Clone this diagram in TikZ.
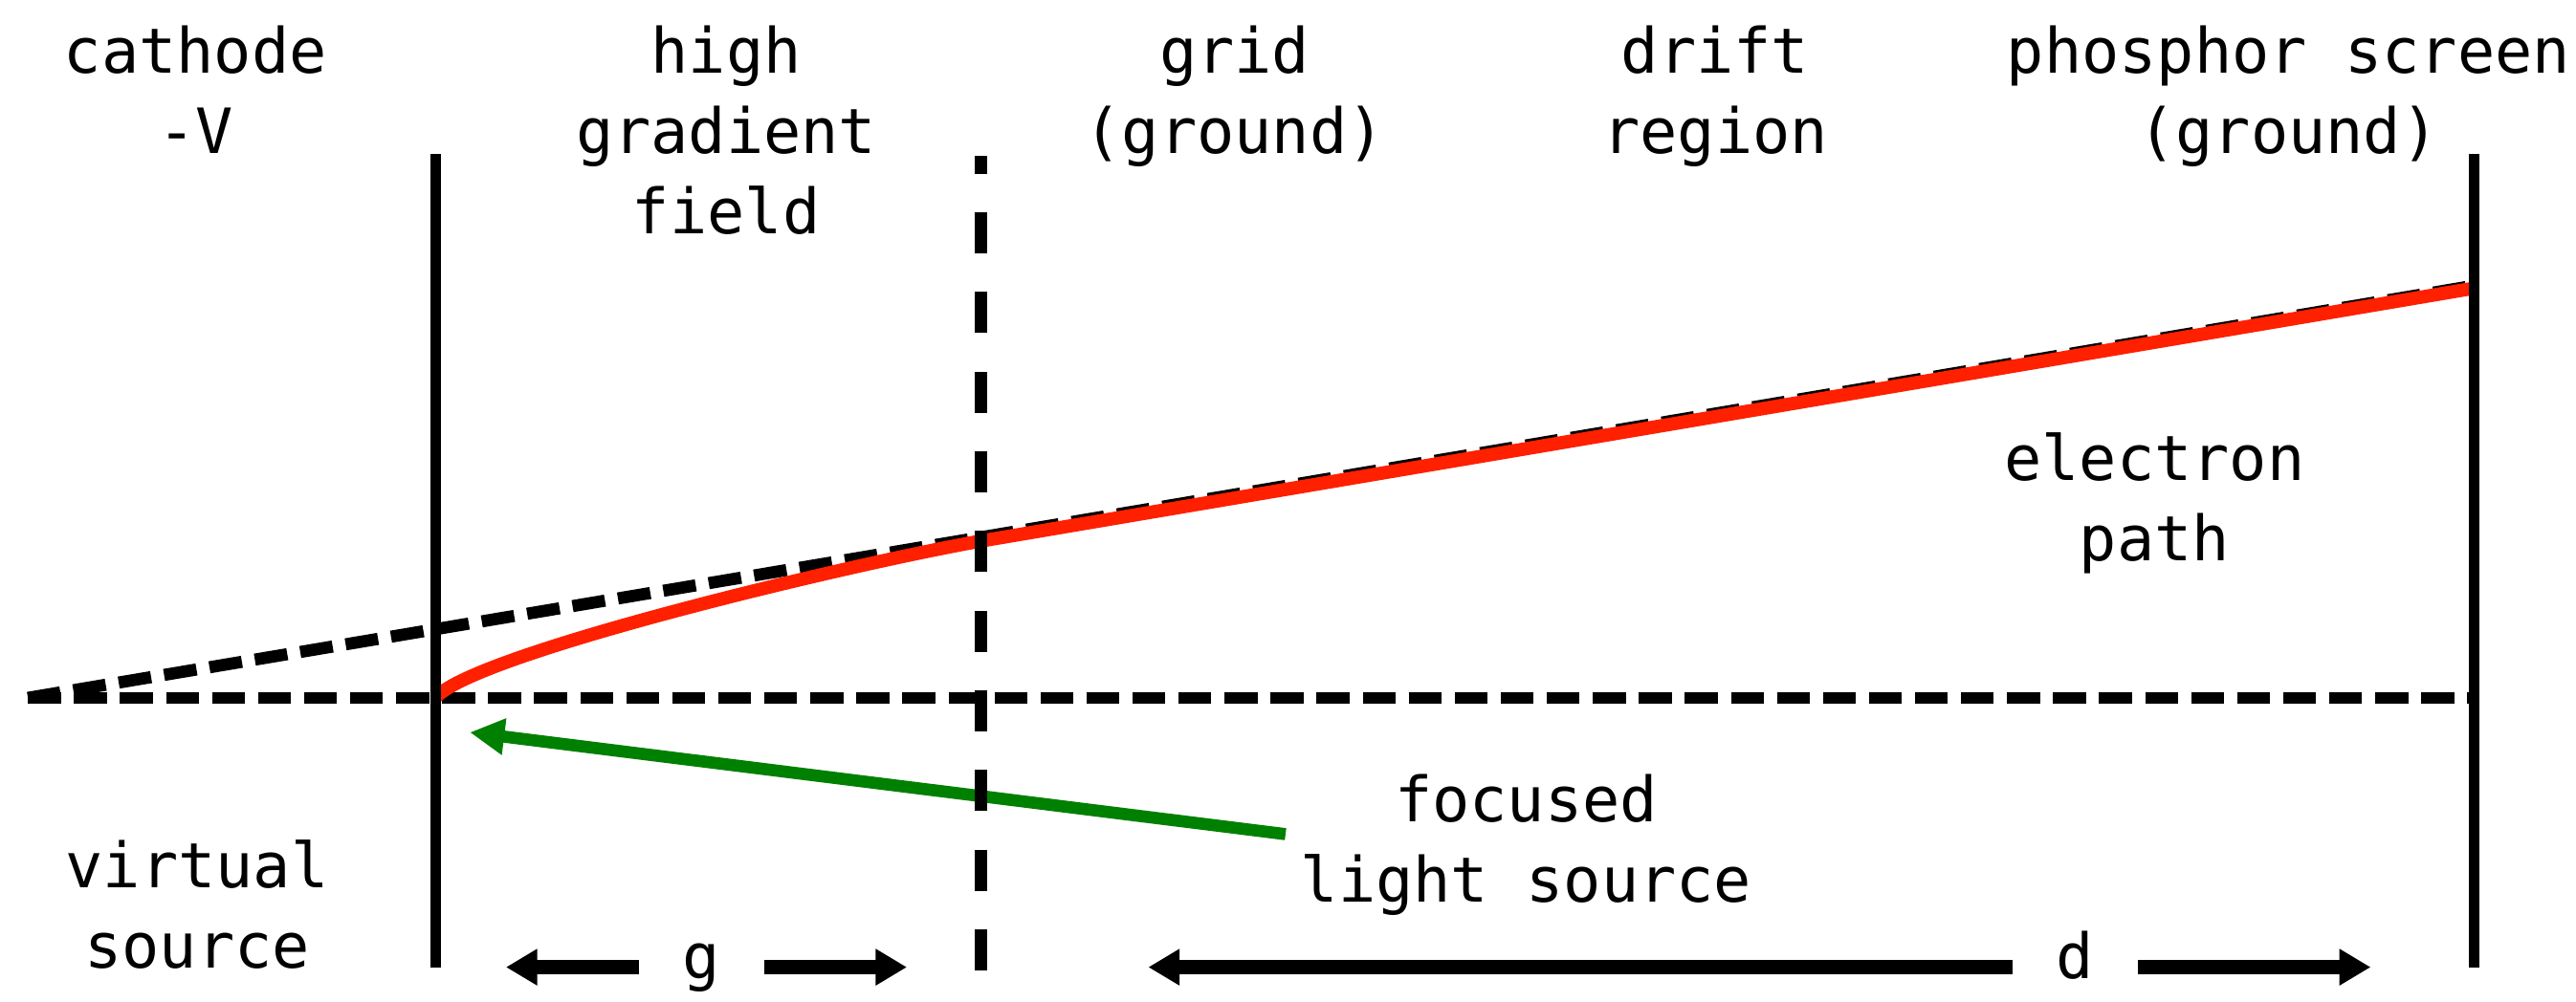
\documentclass[tikz,border=0pt]{standalone}
\usepackage{fontspec}
\setmainfont{DejaVu Sans Mono}
\usetikzlibrary{arrows.meta}
\definecolor{pathred}{RGB}{255,32,0}
\definecolor{lightgreen}{RGB}{0,128,0}
\tikzset{
  lbl/.style={align=center, anchor=north, inner sep=0pt, font=\fontsize{10.8}{13.94}\selectfont},
  dimlbl/.style={anchor=base, inner xsep=0.26cm, inner ysep=0pt, font=\fontsize{10.8}{13.94}\selectfont},
  plate/.style={line width=1.8pt},
  gridline/.style={line width=2.1pt, dash pattern=on 0.25cm off 0.235cm},
  axisline/.style={line width=2.1pt, dash pattern=on 0.20cm off 0.08cm},
  epath/.style={line width=2.3pt, pathred},
  beam/.style={line width=2.1pt, lightgreen, -{Triangle[length=0.21cm,width=0.21cm]}},
  dimarrow/.style={line width=2.4pt, -{Triangle[length=0.19cm,width=0.21cm]}}
}
\begin{document}
\begin{tikzpicture}[x=0.01cm,y=-0.01cm]
\useasboundingbox (0,0) rectangle (1568,610);

% labels
\node[lbl] (cathode) at (119,15) {cathode\\-V};
\node[lbl] (high) at (442,15) {high\\gradient\\field};
\node[lbl] (gridlbl) at (751.5,15) {grid\\(ground)};
\node[lbl] (drift) at (1044,15) {drift\\region};
\node[lbl] (screen) at (1393,15) {phosphor screen\\(ground)};
\node[lbl] (electron) at (1311.5,263) {electron\\path};
\node[lbl] (virtual) at (120,511) {virtual\\source};
\node[lbl] (focused) at (929,471) {focused\\light source};
\node[dimlbl] (g) at (427,596) {g};
\node[dimlbl] (d) at (1263,596) {d};

% key coordinates
\coordinate (vs) at (17,425);
\coordinate (catTop) at (265,94);
\coordinate (catBot) at (265,589);
\coordinate (catAxis) at (265,425);
\coordinate (gridTop) at (597,95);
\coordinate (gridBot) at (597,591);
\coordinate (gridPt) at (597,329.5);
\coordinate (scrTop) at (1506,94);
\coordinate (scrBot) at (1506,589);
\coordinate (scrAxis) at (1506,425);
\coordinate (scrHit) at (1506,175.5);
\coordinate (scrDash) at (1506,174);
\coordinate (lightStart) at (782.5,508);
\coordinate (lightTip) at (286,446);
\coordinate (gL) at (308,589);
\coordinate (gR) at (552,589);
\coordinate (dL) at (699,589);
\coordinate (dR) at (1443,589);

% axis and virtual-source line
\draw[axisline] (vs) -- (scrAxis);
\draw[axisline] (vs) -- (scrDash);

% electron path
\draw[epath] (catAxis) .. controls (288,398) and (520,343) .. (gridPt) -- (scrHit);

% plates
\draw[plate] (catTop) -- (catBot);
\draw[plate] (scrTop) -- (scrBot);

% light beam
\draw[beam] (lightStart) -- (lightTip);

% grid
\draw[gridline] (gridBot) -- (gridTop);

% dimensions
\draw[dimarrow] (g.west |- gL) -- (gL);
\draw[dimarrow] (g.east |- gR) -- (gR);
\draw[dimarrow] (d.west |- dL) -- (dL);
\draw[dimarrow] (d.east |- dR) -- (dR);
\end{tikzpicture}
\end{document}
